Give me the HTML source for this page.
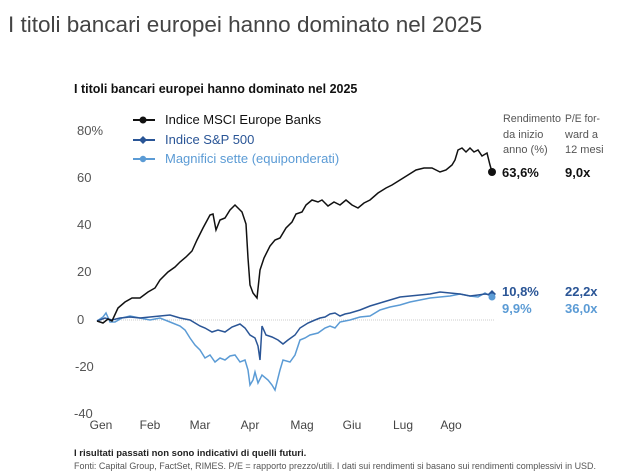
<!DOCTYPE html>
<html><head><meta charset="utf-8"><style>
html,body{margin:0;padding:0;background:#fff;width:626px;height:474px;overflow:hidden;font-family:"Liberation Sans",sans-serif}
svg{position:absolute;left:0;top:0}
</style></head><body>
<svg width="626" height="474" viewBox="0 0 626 474">
<text x="8" y="32" font-size="22.5" fill="#444">I titoli bancari europei hanno dominato nel 2025</text>
<text x="74" y="93" font-size="12.5" font-weight="bold" fill="#111">I titoli bancari europei hanno dominato nel 2025</text>
<g font-size="13" fill="#555">
<text x="77" y="135">80%</text><text x="77" y="182">60</text><text x="77" y="229">40</text>
<text x="77" y="276">20</text><text x="77" y="324">0</text><text x="75" y="371">-20</text><text x="74" y="418">-40</text>
</g>
<line x1="97" y1="320" x2="495" y2="320" stroke="#ccc" stroke-dasharray="1,1"/>
<g font-size="12" fill="#444" text-anchor="middle">
<text x="101" y="429">Gen</text><text x="150" y="429">Feb</text><text x="200" y="429">Mar</text><text x="250" y="429">Apr</text>
<text x="302" y="429">Mag</text><text x="352" y="429">Giu</text><text x="403" y="429">Lug</text><text x="451" y="429">Ago</text>
</g>
<polyline fill="none" stroke="#5b9bd5" stroke-width="1.5" points="97,321 103,317 106,313 110,322 115,322 122,318 130,316 140,318 150,320 160,318 170,322 180,326 185,330 190,338 195,345 200,350 205,358 210,355 215,362 220,358 225,360 230,356 235,355 240,362 245,360 248,370 250,385 253,380 255,372 258,383 262,375 268,380 272,385 275,390 280,370 283,360 290,362 295,355 300,340 305,338 310,335 318,333 325,328 330,326 335,328 340,322 350,320 360,317 370,316 380,310 390,307 400,305 410,302 420,300 430,298 440,297 450,296 460,294 470,296 478,297 485,293 492,297"/>
<polyline fill="none" stroke="#2a5596" stroke-width="1.5" points="97,321 105,318 112,320 120,318 130,317 140,318 150,317 160,316 170,315 180,318 190,320 200,326 205,328 212,332 218,330 225,332 232,327 240,324 245,328 250,335 255,338 258,346 260,360 262,326 266,335 272,337 278,340 283,344 288,340 295,335 300,328 308,323 315,320 320,318 325,317 330,314 335,313 340,316 345,314 350,313 360,310 370,306 380,303 390,300 400,297 410,296 420,295 430,294 440,292 450,293 460,294 470,296 478,295 485,294 492,295"/>
<polyline fill="none" stroke="#111" stroke-width="1.5" points="97,321 103,323 108,319 112,321 118,308 125,302 132,298 140,298 148,292 155,288 160,280 168,272 175,267 180,262 186,257 192,251 197,240 203,228 210,215 213,214 216,230 220,220 225,218 230,210 235,205 238,208 242,212 246,224 248,258 250,285 253,293 257,298 260,270 264,258 270,246 275,240 280,238 286,228 292,222 296,214 302,212 306,205 312,200 318,202 322,200 328,206 334,202 340,205 346,200 352,205 358,208 364,203 370,200 378,193 386,188 392,185 400,180 408,175 416,170 424,168 432,168 440,172 446,170 452,165 455,160 458,150 462,148 466,152 470,148 474,152 478,150 482,156 487,153 490,165 492,172"/>
<circle cx="492" cy="172" r="4" fill="#111"/>
<path d="M492,290 l4,4 -4,4 -4,-4z" fill="#2a5596"/>
<circle cx="492" cy="297" r="3.5" fill="#5b9bd5"/>
<g stroke-width="2">
<line x1="133" y1="120" x2="155" y2="120" stroke="#111"/><circle cx="143" cy="120" r="3.5" fill="#111"/>
<line x1="133" y1="140" x2="155" y2="140" stroke="#2a5596"/><path d="M143,136 l4,4 -4,4 -4,-4z" fill="#2a5596"/>
<line x1="133" y1="159" x2="155" y2="159" stroke="#5b9bd5"/><circle cx="143" cy="159" r="3.2" fill="#5b9bd5"/>
</g>
<g font-size="13">
<text x="165" y="124" fill="#111">Indice MSCI Europe Banks</text>
<text x="165" y="144" fill="#2a5596">Indice S&amp;P 500</text>
<text x="165" y="163" fill="#5b9bd5">Magnifici sette (equiponderati)</text>
</g>
<g font-size="11" fill="#555">
<text x="503" y="122" textLength="58" lengthAdjust="spacingAndGlyphs">Rendimento</text><text x="503" y="138">da inizio</text><text x="503" y="153">anno (%)</text>
<text x="565" y="122" textLength="35" lengthAdjust="spacingAndGlyphs">P/E for-</text><text x="565" y="138">ward a</text><text x="565" y="153">12 mesi</text>
</g>
<g font-size="13" font-weight="bold">
<text x="502" y="177" fill="#111">63,6%</text><text x="565" y="177" fill="#111">9,0x</text>
<text x="502" y="296" fill="#2a5596">10,8%</text><text x="565" y="296" fill="#2a5596">22,2x</text>
<text x="502" y="313" fill="#5b9bd5">9,9%</text><text x="565" y="313" fill="#5b9bd5">36,0x</text>
</g>
<text x="74" y="456" font-size="9.5" font-weight="bold" fill="#222">I risultati passati non sono indicativi di quelli futuri.</text>
<text x="74" y="469" font-size="9.5" fill="#555" textLength="522" lengthAdjust="spacingAndGlyphs">Fonti: Capital Group, FactSet, RIMES. P/E = rapporto prezzo/utili. I dati sui rendimenti si basano sui rendimenti complessivi in USD.</text>
</svg>
</body></html>
